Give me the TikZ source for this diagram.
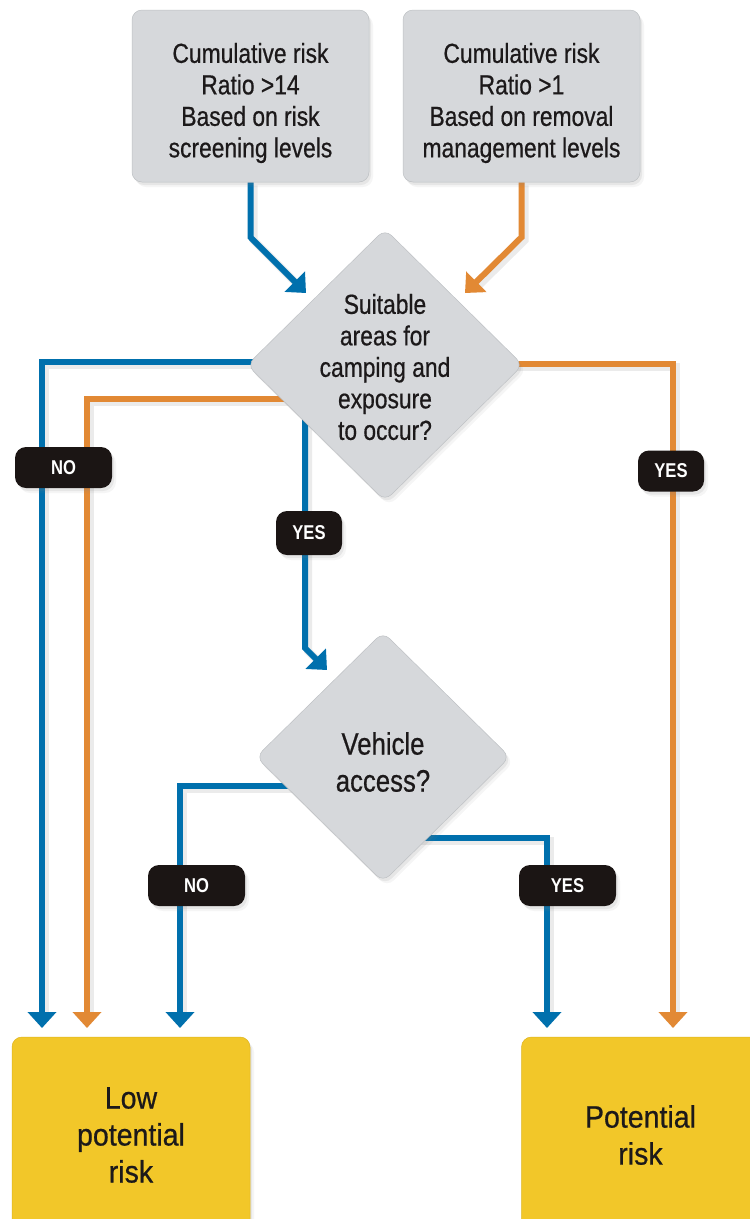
\documentclass[tikz,border=0pt]{standalone}
\usepackage{fontspec}
\setmainfont{Liberation Sans}[FakeStretch=0.83,FakeBold=0.6]
\newfontfamily\widefont{Liberation Sans}[FakeStretch=0.92,FakeBold=0.6]
\newfontfamily\tagfont{Liberation Sans Bold}[FakeStretch=0.83]
\usetikzlibrary{shapes.geometric,arrows.meta,calc,shadows}

\definecolor{flowblue}{RGB}{0,112,173}
\definecolor{floworange}{RGB}{226,137,52}
\definecolor{boxgrey}{RGB}{214,216,219}
\definecolor{boxedge}{RGB}{190,193,196}
\definecolor{gold}{RGB}{242,199,41}
\definecolor{goldedge}{RGB}{222,180,30}
\definecolor{tagblack}{RGB}{27,21,20}
\definecolor{ink}{RGB}{28,25,26}

\pgfdeclarelayer{paper}
\pgfdeclarelayer{wires}
\pgfsetlayers{paper,wires,main}

\begin{document}
\begin{tikzpicture}[x=1pt,y=-1pt,
  softshadow/.style={
      drop shadow={shadow xshift=2pt, shadow yshift=-3pt, opacity=.12},
      drop shadow={shadow xshift=4pt, shadow yshift=-5pt, opacity=.08}},
  greybox/.style={draw=boxedge, line width=0.5pt, fill=boxgrey,
      rounded corners=10pt, minimum width=237pt, minimum height=172pt,
      inner sep=0pt, softshadow},
  decision/.style={diamond, draw=boxedge, line width=0.5pt, fill=boxgrey,
      rounded corners=9pt, inner sep=0pt, softshadow},
  qtext/.style={align=center, text=ink, inner sep=0pt,
      font=\fontsize{27.5}{31.5}\selectfont},
  result/.style={fill=gold, draw=goldedge, line width=0.5pt,
      rounded corners=10pt, minimum width=238pt, minimum height=196pt,
      inner sep=0pt, align=center, text=ink,
      font=\widefont\fontsize{31}{37}\selectfont, softshadow},
  tag/.style={fill=tagblack, text=white, rounded corners=11pt,
      minimum height=41pt, inner sep=0pt,
      font=\tagfont\fontsize{20}{22}\selectfont, softshadow},
  conn/.style={line width=6pt, -{Triangle[width=28pt,length=16pt]},
      preaction={-, shorten >=14pt, draw=black, draw opacity=.08,
        line width=8pt, transform canvas={shift={(3pt,-3pt)}}}}
]
\useasboundingbox (0,0) rectangle (750,1219);
\begin{pgfonlayer}{paper}
  \fill[white] (0,0) rectangle (750,1219);
\end{pgfonlayer}

% criteria boxes
\node[greybox] (tl) at (250.5,96) {};
\node[qtext] (tltext) at (250.5,103) {Cumulative risk\\Ratio >14\\Based on risk\\screening levels};
\node[greybox] (tr) at (521.5,96) {};
\node[qtext] (trtext) at (521.5,103) {Cumulative risk\\Ratio >1\\Based on removal\\management levels};

% decisions
\node[decision, minimum width=276pt, minimum height=272pt] (d1) at (385,365) {};
\node[qtext] (q1) at (385,367) {Suitable\\areas for\\camping and\\exposure\\to occur?};
\node[decision, minimum width=254pt, minimum height=250pt] (d2) at (383,757) {};
\node[qtext, font=\fontsize{31}{37}\selectfont] (q2) at (383,762) {Vehicle\\access?};

% outcomes
\node[result] (low) at (131,1135) {Low\\potential\\risk};
\node[result] (pot) at (640.5,1135) {Potential\\risk};

% arrow tips
\coordinate (tipA) at (306,293);
\coordinate (tipB) at (465,293);
\coordinate (tipC) at (327,670);
\coordinate (e1) at (42,1028);
\coordinate (e2) at (87,1028);
\coordinate (e3) at (180,1028);
\coordinate (e4) at (547,1028);
\coordinate (e5) at (673,1028);

\begin{pgfonlayer}{wires}
  \draw[conn, flowblue] (tl.south) -- ++(0,55) -- (tipA);
  \draw[conn, floworange] (tr.south) -- ++(0,55) -- (tipB);
  \draw[conn, flowblue] ($(d1.center)+(0,-3)$) -| (e1);
  \draw[conn, floworange] ($(d1.center)+(0,34)$) -| (e2);
  \draw[conn, floworange] ($(d1.center)+(0,-1)$) -| (e5);
  \draw[conn, flowblue] ($(d1.center)+(-80,30)$) -- ++(0,253) -- (tipC);
  \draw[conn, flowblue] ($(d2.center)+(0,29)$) -| (e3);
  \draw[conn, flowblue] ($(d2.center)+(0,81)$) -| (e4);
\end{pgfonlayer}

% answer tags
\node[tag, minimum width=97pt] (no1) at (63.5,467.5) {NO};
\node[tag, minimum width=66pt, minimum height=44pt] (yes1) at (309,533) {YES};
\node[tag, minimum width=66pt] (yes2) at (671,471) {YES};
\node[tag, minimum width=97pt] (no2) at (196.5,885.5) {NO};
\node[tag, minimum width=97pt] (yes3) at (567.5,885.5) {YES};
\end{tikzpicture}
\end{document}
